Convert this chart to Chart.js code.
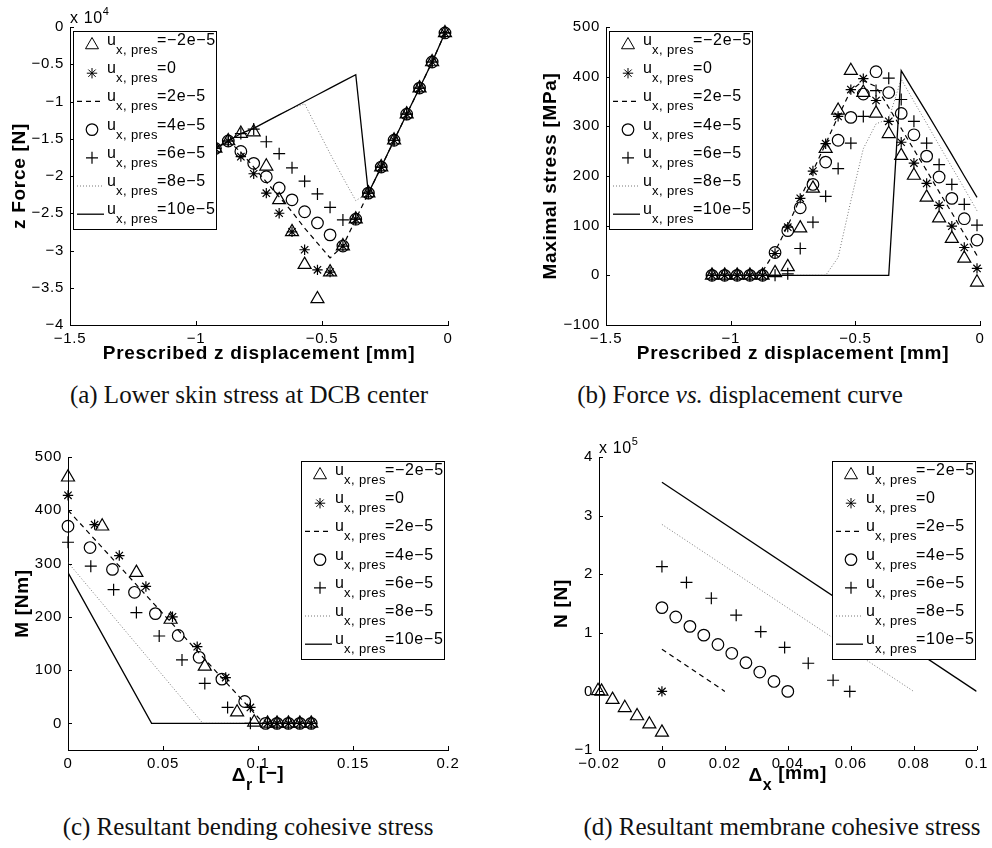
<!DOCTYPE html>
<html>
<head>
<meta charset="utf-8">
<script src="https://cdn.jsdelivr.net/npm/chart.js@4.4.0/dist/chart.umd.min.js"></script>
<style>
  body { margin: 0; background: #fff; width: 992px; height: 848px; position: relative; overflow: hidden; }
  canvas { position: absolute; }
  .cap { position: absolute; font-family: "Liberation Serif", "Times New Roman", serif; font-size: 25px; line-height: 30px; color: #111; white-space: nowrap; text-align: center; width: 496px; }
</style>
</head>
<body>
<canvas id="plotA" width="496" height="372" style="left:0;top:0"></canvas>
<canvas id="plotB" width="496" height="372" style="left:496px;top:0"></canvas>
<canvas id="plotC" width="496" height="380" style="left:0;top:420px"></canvas>
<canvas id="plotD" width="496" height="380" style="left:496px;top:420px"></canvas>
<div class="cap" style="left:1px;top:380px">(a) Lower skin stress at DCB center</div>
<div class="cap" style="left:492px;top:380px">(b) Force <i>vs.</i> displacement curve</div>
<div class="cap" style="left:0;top:812px">(c) Resultant bending cohesive stress</div>
<div class="cap" style="left:534px;top:812px">(d) Resultant membrane cohesive stress</div>
<script>
// legend values of u_x,pres
const presValues = ['\u22122e\u22125', '0', '2e\u22125', '4e\u22125', '6e\u22125', '8e\u22125', '10e\u22125'];

// prescribed z displacement [mm], shared by plots (a) and (b)
const dispZ = [-0.012, -0.063, -0.113, -0.164, -0.214, -0.265, -0.316, -0.366, -0.417, -0.468, -0.518,
               -0.569, -0.619, -0.670, -0.721, -0.771, -0.822, -0.872, -0.923, -0.974, -1.024, -1.075];

// (a) z force [x 1e4 N]
const forceTri   = [-0.08, -0.47, -0.82, -1.17, -1.52, -1.88, -2.23, -2.58, -2.94, -3.29, -3.65, -3.19, -2.75, -2.32, -1.87, -1.41, -1.43, -1.53, -1.63, -1.72, -1.81, -1.90];
const forceStar  = [-0.08, -0.47, -0.82, -1.17, -1.52, -1.88, -2.23, -2.58, -2.94, -3.29, -3.26, -2.99, -2.75, -2.50, -2.23, -1.97, -1.74, -1.53, -1.63, -1.72, -1.81, -1.90];
const forceDash  = [-0.08, -0.47, -0.82, -1.17, -1.52, -1.88, -2.23, -2.58, -2.94, -3.10, -2.90, -2.70, -2.48, -2.28, -2.08, -1.88, -1.68, -1.53, -1.63, -1.72, -1.81, -1.90];
const forceCirc  = [-0.08, -0.47, -0.82, -1.17, -1.52, -1.88, -2.23, -2.58, -2.94, -2.79, -2.63, -2.48, -2.32, -2.16, -2.01, -1.83, -1.67, -1.53, -1.63, -1.72, -1.81, -1.90];
const forcePlus  = [-0.08, -0.47, -0.82, -1.17, -1.52, -1.88, -2.23, -2.58, -2.59, -2.42, -2.24, -2.07, -1.89, -1.70, -1.54, -1.37, -1.43, -1.53, -1.63, -1.72, -1.81, -1.90];
const forceDot   = [-0.08, -0.47, -0.82, -1.17, -1.52, -1.88, -2.23, -2.33, -2.02, -1.70, -1.37, -1.03, -1.09, -1.18, -1.27, -1.36, -1.43, -1.53, -1.63, -1.72, -1.81, -1.90];
const forceSolid = [-0.08, -0.47, -0.82, -1.17, -1.52, -1.88, -2.23, -0.64, -0.73, -0.82, -0.91, -1.00, -1.09, -1.18, -1.27, -1.36, -1.43, -1.53, -1.63, -1.72, -1.81, -1.90];

// (b) maximal stress [MPa]
const stressTri   = [-14, 34, 74, 115, 157, 201, 241, 285, 326, 368, 412, 332, 255, 175, 95, 17, 5, 0, 0, 0, 0, 0];
const stressStar  = [14, 56, 99, 141, 185, 226, 268, 310, 352, 396, 374, 320, 265, 210, 155, 97, 44, 0, 0, 0, 0, 0];
const stressDash  = [40, 83, 126, 168, 211, 253, 296, 338, 380, 392, 372, 320, 265, 210, 155, 100, 48, 8, 0, 0, 0, 0];
const stressCirc  = [71, 114, 155, 198, 240, 283, 326, 368, 410, 365, 318, 272, 228, 183, 136, 90, 46, 0, 0, 0, 0, 0];
const stressPlus  = [101, 143, 183, 223, 266, 310, 354, 397, 372, 320, 266, 215, 159, 107, 54, 3, 0, 0, 0, 0, 0, 0];
const stressDot   = [130, 175, 218, 262, 306, 350, 395, 315, 305, 255, 150, 36, 0, 0, 0, 0, 0, 0, 0, 0, 0, 0];
const stressSolid = [157, 200, 243, 286, 328, 370, 412, 0, 0, 0, 0, 0, 0, 0, 0, 0, 0, 0, 0, 0, 0, 0];

// (c) bending moment M [Nm] vs delta_r [-]
const mTriX   = [0, 0.018, 0.036, 0.054, 0.072, 0.089, 0.098, 0.105, 0.110, 0.116, 0.122, 0.128];
const mTriY   = [462, 370, 283, 195, 107, 21, 2, 0, 0, 0, 0, 0];
const mStarX  = [0, 0.014, 0.027, 0.041, 0.055, 0.068, 0.083, 0.096, 0.105, 0.110, 0.116, 0.122, 0.128];
const mStarY  = [428, 373, 315, 257, 200, 144, 86, 30, 0, 0, 0, 0, 0];
const mDashX  = [0, 0.103, 0.128];
const mDashY  = [400, 0, 0];
const mCircX  = [0, 0.0116, 0.0234, 0.035, 0.046, 0.058, 0.069, 0.081, 0.093, 0.104, 0.110, 0.116, 0.122, 0.128];
const mCircY  = [370, 330, 289, 246, 206, 165, 124, 83, 41, 0, 0, 0, 0, 0];
const mPlusX  = [0, 0.012, 0.024, 0.036, 0.048, 0.060, 0.072, 0.084, 0.096, 0.105, 0.110, 0.116, 0.122, 0.128];
const mPlusY  = [340, 295, 251, 208, 164, 119, 75, 30, 0, 0, 0, 0, 0, 0];
const mDotX   = [0, 0.071, 0.128];
const mDotY   = [302, 0, 0];
const mSolidX = [0, 0.044, 0.128];
const mSolidY = [283, 0, 0];

// (d) membrane force N [x 1e5 N] vs delta_x [mm]
const nTriX   = [-0.0203, -0.0192, -0.0157, -0.0118, -0.0079, -0.004, 0];
const nTriY   = [0.01, 0, -0.14, -0.28, -0.42, -0.56, -0.70];
const nStarX  = [0];
const nStarY  = [0];
const nDashX  = [0, 0.02];
const nDashY  = [0.72, 0];
const nCircX  = [0, 0.0044, 0.0089, 0.0133, 0.0178, 0.0222, 0.0267, 0.0311, 0.0356, 0.04];
const nCircY  = [1.43, 1.27, 1.11, 0.96, 0.80, 0.65, 0.49, 0.33, 0.17, 0];
const nPlusX  = [0, 0.0078, 0.0157, 0.0236, 0.0314, 0.039, 0.0465, 0.0544, 0.0597];
const nPlusY  = [2.13, 1.86, 1.59, 1.30, 1.02, 0.75, 0.48, 0.19, 0];
const nDotX   = [0, 0.08];
const nDotY   = [2.85, 0];
const nSolidX = [0, 0.1];
const nSolidY = [3.57, 0];

// tick values
const ticksDispZ   = [-1.5, -1, -0.5, 0];
const ticksForce   = [-4, -3.5, -3, -2.5, -2, -1.5, -1, -0.5, 0];
const ticksStress  = [-100, 0, 100, 200, 300, 400, 500];
const ticksDeltaR  = [0, 0.05, 0.1, 0.15, 0.2];
const ticksMoment  = [0, 100, 200, 300, 400, 500];
const ticksDeltaX  = [-0.02, 0, 0.02, 0.04, 0.06, 0.08, 0.1];
const ticksMembr   = [-1, 0, 1, 2, 3, 4];

const FONT = '"Liberation Sans", Arial, Helvetica, sans-serif';

// matlab-like look of the 7 series
const styles = [
  { style: 'triangle', r: 7.5 },
  { style: 'star', r: 5.2 },
  { line: true, dash: [5, 4], lw: 1.2, color: '#000' },
  { style: 'circle', r: 5.8 },
  { style: 'cross', r: 6 },
  { line: true, dash: [1, 2], lw: 1, color: '#777' },
  { line: true, dash: [], lw: 1.3, color: '#000' }
];

const pts = (xs, ys) => xs.map((x, i) => ({ x: x, y: ys[i] }));
const minus = v => String(v).replace('-', '\u2212');

function makeDatasets(series) {
  return series.map((data, i) => {
    const s = styles[i];
    if (s.line) {
      return { data: data, showLine: true, pointRadius: 0, borderColor: s.color, borderWidth: s.lw, borderDash: s.dash, order: 10 - i };
    }
    return { data: data, showLine: false, pointStyle: s.style, pointRadius: s.r, pointBorderColor: '#000',
             pointBackgroundColor: 'rgba(0,0,0,0)', pointBorderWidth: 1.2, clip: false, order: 10 - i };
  });
}

function mlPlugin(cfg) {
  return {
    id: 'mlLook',
    beforeDraw(chart) { chart.ctx.letterSpacing = '0.7px'; },
    afterDraw(chart) {
      const ctx = chart.ctx, xs = chart.scales.x, ys = chart.scales.y, a = chart.chartArea;
      ctx.save();
      // inward tick marks
      ctx.strokeStyle = '#000'; ctx.lineWidth = 1; ctx.beginPath();
      xs.ticks.forEach(t => { const p = Math.round(xs.getPixelForValue(t.value)) + 0.5; ctx.moveTo(p, a.bottom); ctx.lineTo(p, a.bottom - 4); });
      ys.ticks.forEach(t => { const p = Math.round(ys.getPixelForValue(t.value)) + 0.5; ctx.moveTo(a.left, p); ctx.lineTo(a.left + 4, p); });
      ctx.stroke();
      ctx.fillStyle = '#000'; ctx.textAlign = 'left'; ctx.textBaseline = 'alphabetic';
      // exponent label
      if (cfg.exp) {
        ctx.font = '16px ' + FONT; ctx.letterSpacing = '0.6px';
        ctx.fillText('x 10', a.left, a.top - 4);
        const w = ctx.measureText('x 10').width;
        ctx.font = '11px ' + FONT;
        ctx.fillText(cfg.exp, a.left + w, a.top - 12);
      }
      // x title with subscript
      if (cfg.xSub) {
        const cx = (a.left + a.right) / 2, by = a.bottom + 31;
        ctx.font = 'bold 19px ' + FONT; ctx.letterSpacing = '0.6px';
        const w1 = ctx.measureText('\u0394').width;
        ctx.font = 'bold 16px ' + FONT;
        const w2 = ctx.measureText(cfg.xSub[0]).width;
        ctx.font = 'bold 19px ' + FONT;
        const w3 = ctx.measureText(cfg.xSub[1]).width;
        let x0 = cx - (w1 + w2 + w3) / 2;
        ctx.fillText('\u0394', x0, by);
        ctx.font = 'bold 16px ' + FONT;
        ctx.fillText(cfg.xSub[0], x0 + w1, by + 9);
        ctx.font = 'bold 19px ' + FONT;
        ctx.fillText(cfg.xSub[1], x0 + w1 + w2, by - 2);
      }
      // legend box
      const bx = cfg.legend[0], by = cfg.legend[1];
      ctx.fillStyle = '#fff'; ctx.fillRect(bx, by, 144, 199);
      ctx.strokeStyle = '#000'; ctx.lineWidth = 1; ctx.strokeRect(bx + 0.5, by + 0.5, 143, 198);
      presValues.forEach((val, i) => {
        const ry = by + 14 + 28.2 * i, s = styles[i];
        if (s.line) {
          ctx.strokeStyle = s.color; ctx.lineWidth = s.lw; ctx.setLineDash(s.dash);
          ctx.beginPath(); ctx.moveTo(bx + 4, ry); ctx.lineTo(bx + 31, ry); ctx.stroke(); ctx.setLineDash([]);
        } else {
          ctx.strokeStyle = '#000'; ctx.fillStyle = 'rgba(0,0,0,0)';
          Chart.helpers.drawPoint(ctx, { pointStyle: s.style, radius: s.r, borderWidth: 1.2 }, bx + 19, ry);
        }
        ctx.fillStyle = '#000';
        ctx.font = '16px ' + FONT; ctx.letterSpacing = '0.5px';
        ctx.fillText('u', bx + 34, ry);
        ctx.font = '13px ' + FONT; ctx.letterSpacing = '0.4px';
        ctx.fillText('x, pres', bx + 43, ry + 9);
        ctx.font = '16px ' + FONT; ctx.letterSpacing = '0.7px';
        ctx.fillText('=' + val, bx + 84, ry);
      });
      ctx.restore();
    }
  };
}

function makePlot(id, cfg) {
  const canvas = document.getElementById(id);
  const W = canvas.width, H = canvas.height, a = cfg.area;
  const tickFont = { family: FONT, size: 15 };
  const titleFont = { family: FONT, size: 19, weight: 'bold' };
  new Chart(canvas.getContext('2d'), {
    type: 'scatter',
    data: { datasets: makeDatasets(cfg.series) },
    options: {
      responsive: false, animation: false,
      layout: { padding: { left: 0, top: a.t, right: W - a.r, bottom: 0 } },
      plugins: { legend: { display: false }, tooltip: { enabled: false } },
      scales: {
        x: {
          type: 'linear', min: cfg.x[0], max: cfg.x[1],
          afterBuildTicks: s => { s.ticks = cfg.xTicks.map(v => ({ value: v })); },
          afterFit: s => { s.height = H - a.b; },
          grid: { display: false, drawTicks: false },
          border: { display: true, color: '#000', width: 1 },
          ticks: { font: tickFont, color: '#000', padding: 5, maxRotation: 0, callback: minus },
          title: { display: !!cfg.xTitle, text: cfg.xTitle || '', font: titleFont, color: '#000', padding: { bottom: 7, top: 0 } }
        },
        y: {
          type: 'linear', min: cfg.y[0], max: cfg.y[1],
          afterBuildTicks: s => { s.ticks = cfg.yTicks.map(v => ({ value: v })); },
          afterFit: s => { s.width = a.l; },
          grid: { display: false, drawTicks: false },
          border: { display: true, color: '#000', width: 1 },
          ticks: { font: tickFont, color: '#000', padding: 6, callback: minus },
          title: { display: true, text: cfg.yTitle, font: titleFont, color: '#000', padding: { top: cfg.yTitlePad, bottom: 0 } }
        }
      }
    },
    plugins: [mlPlugin(cfg)]
  });
}

makePlot('plotA', {
  area: { l: 70, t: 27, r: 448, b: 325 },
  x: [-1.5, 0], y: [-4, 0], xTicks: ticksDispZ, yTicks: ticksForce,
  xTitle: 'Prescribed z displacement [mm]', yTitle: 'z Force [N]', yTitlePad: 8,
  exp: '4', legend: [73, 31],
  series: [pts(dispZ, forceTri), pts(dispZ, forceStar), pts(dispZ, forceDash), pts(dispZ, forceCirc),
           pts(dispZ, forcePlus), pts(dispZ, forceDot), pts(dispZ, forceSolid)]
});

makePlot('plotB', {
  area: { l: 110, t: 27, r: 484, b: 325 },
  x: [-1.5, 0], y: [-100, 500], xTicks: ticksDispZ, yTicks: ticksStress,
  xTitle: 'Prescribed z displacement [mm]', yTitle: 'Maximal stress [MPa]', yTitlePad: 43,
  legend: [113, 31],
  series: [pts(dispZ, stressTri), pts(dispZ, stressStar), pts(dispZ, stressDash), pts(dispZ, stressCirc),
           pts(dispZ, stressPlus), pts(dispZ, stressDot), pts(dispZ, stressSolid)]
});

makePlot('plotC', {
  area: { l: 68, t: 37, r: 448, b: 330 },
  x: [0, 0.2], y: [-50, 500], xTicks: ticksDeltaR, yTicks: ticksMoment,
  xSub: ['r', ' [\u2212]'], yTitle: 'M [Nm]', yTitlePad: 11,
  legend: [301, 41],
  series: [pts(mTriX, mTriY), pts(mStarX, mStarY), pts(mDashX, mDashY), pts(mCircX, mCircY),
           pts(mPlusX, mPlusY), pts(mDotX, mDotY), pts(mSolidX, mSolidY)]
});

makePlot('plotD', {
  area: { l: 103, t: 37, r: 484, b: 330 },
  x: [-0.02, 0.1], y: [-1, 4], xTicks: ticksDeltaX, yTicks: ticksMembr,
  xSub: ['x', ' [mm]'], yTitle: 'N [N]', yTitlePad: 54,
  exp: '5', legend: [336, 41],
  series: [pts(nTriX, nTriY), pts(nStarX, nStarY), pts(nDashX, nDashY), pts(nCircX, nCircY),
           pts(nPlusX, nPlusY), pts(nDotX, nDotY), pts(nSolidX, nSolidY)]
});
</script>
</body>
</html>
